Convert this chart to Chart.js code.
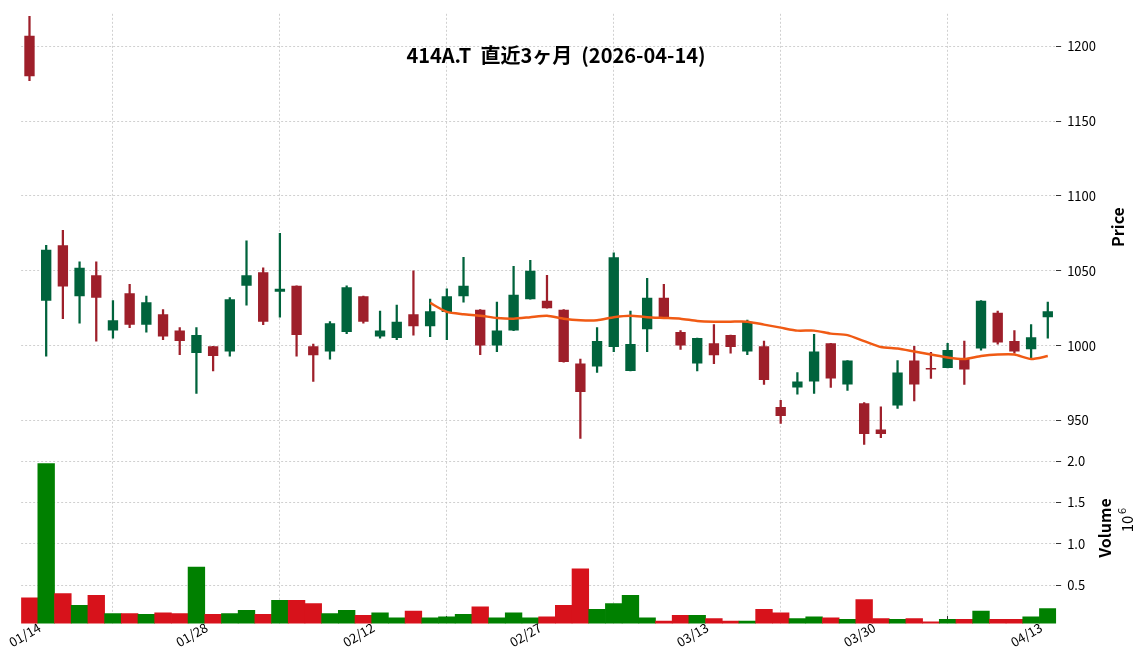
<!DOCTYPE html>
<html>
<head>
<meta charset="utf-8">
<script src="https://cdn.jsdelivr.net/npm/chart.js@4.4.1/dist/chart.umd.min.js"></script>
<style>
  body { margin: 0; background: #fff; }
  #wrap { width: 1148px; height: 670px; }
</style>
</head>
<body>
<div id="wrap"><canvas id="c"></canvas></div>
<script>
const dates = ['01/14','01/15','01/16','01/19','01/20','01/21','01/22','01/23','01/26','01/27',
  '01/28','01/29','01/30','02/02','02/03','02/04','02/05','02/06','02/09','02/10',
  '02/12','02/13','02/16','02/17','02/18','02/19','02/20','02/24','02/25','02/26',
  '02/27','03/02','03/03','03/04','03/05','03/06','03/09','03/10','03/11','03/12',
  '03/13','03/16','03/17','03/18','03/19','03/23','03/24','03/25','03/26','03/27',
  '03/30','03/31','04/01','04/02','04/03','04/06','04/07','04/08','04/09','04/10',
  '04/13','04/14'];
const openP = [1207,1030,1067,1033,1047,1010,1035,1014,1021,1010,995,999.5,996,1040,1049,1036,1040,999.5,996,1009,
  1033,1006,1005,1021,1013,1022.5,1033,1024,1000,1010,1031,1030,1024,988,986,999,983,1011,1032,1009,
  988,1001.5,1007,996,999.5,959,972,976,1001.5,974,961.5,944,960,990,985,985,991,998,1022,1003,997.5,1019];
const closeP = [1180,1064,1039.5,1052,1032,1017,1014,1029,1006,1003,1007,993,1031,1047,1016,1038,1007,993.5,1015,1039,
  1016,1010,1016,1013,1023,1033,1040,1000,1010,1034,1050,1025,989,969,1003,1059,1001,1032,1018.5,1000,
  1005,993.5,999,1016,977,953,976,996,978,990,941,941,982,974,984,997,984,1030,1002,996,1005.5,1023];
const highP = [1220,1067,1077,1056,1056,1030,1041,1033,1024,1012,1012,999.5,1032,1070,1052,1075,1040,1001,1016,1040,
  1033,1023,1027,1050,1031,1038,1059,1024,1029,1053,1057,1047,1024,991,1012,1062,1023,1045,1041,1010,
  1005,1014,1007,1017,1003,963.5,982,1007.5,1001.5,990,962,959,990,999.5,995.5,1001.5,1003,1030,1023,1010,1014,1029];
const lowP = [1177,993,1018,1015,1003,1005,1012,1009,1004,994,968,983,993,1027,1014,1019,993,976,991,1008,
  1015,1005,1004,1007,1006,1004,1029,994,996,1010,1031,1025,989,938,982,996,983,996,1018,997.5,
  983,988,995,994,974,948,967.5,968,972,970,934,938.5,958,963,978,985,974,997,1001,995,991.5,1005];
const ma25 = [null,null,null,null,null,null,null,null,null,null,null,null,null,null,null,null,null,null,null,null,
  null,null,null,null,1028.5,1022.5,1021,1020,1018.5,1018,1019,1020,1018,1017,1017,1019,1020,1019,1018.5,1018,
  1016.5,1016,1016,1016,1014,1012,1010,1010,1008,1007,1003,999,998,996,994,992,991,993,994,994,991,993];
const volume = [0.35,1.97,0.40,0.26,0.38,0.16,0.16,0.15,0.17,0.16,0.72,0.15,0.16,0.20,0.15,0.32,0.32,0.28,0.16,0.20,
  0.14,0.17,0.11,0.19,0.11,0.12,0.15,0.24,0.11,0.17,0.11,0.12,0.26,0.70,0.21,0.28,0.38,0.11,0.07,0.14,
  0.14,0.10,0.07,0.07,0.21,0.17,0.10,0.12,0.11,0.09,0.33,0.10,0.09,0.10,0.06,0.09,0.09,0.19,0.09,0.09,0.12,0.22];
const priceTicks = [950,1000,1050,1100,1150,1200];
const volTicks = [0.5,1.0,1.5,2.0];

const up = dates.map((d, i) => closeP[i] >= openP[i]);
const candleCol = up.map(u => u ? '#00633c' : '#9e1f2a');
const volCol = up.map(u => u ? '#008000' : '#d7121b');
const FONT = "'Noto Sans CJK JP', 'Noto Sans', sans-serif";

const sideTitles = {
  id: 'sideTitles',
  afterDraw(chart) {
    const ctx = chart.ctx;
    ctx.save();
    ctx.fillStyle = '#000';
    ctx.font = 'bold 16px ' + FONT;
    ctx.textAlign = 'center';
    ctx.textBaseline = 'middle';
    ctx.translate(1118, 227);
    ctx.rotate(-Math.PI / 2);
    ctx.fillText('Price', 0, 0);
    ctx.restore();
    ctx.save();
    ctx.fillStyle = '#000';
    ctx.font = 'bold 16px ' + FONT;
    ctx.textAlign = 'center';
    ctx.textBaseline = 'middle';
    ctx.translate(1105, 528);
    ctx.rotate(-Math.PI / 2);
    ctx.fillText('Volume', 0, 0);
    ctx.font = '15px ' + FONT;
    ctx.fillText('10', 4, 22);
    ctx.font = '11px ' + FONT;
    ctx.fillText('6', 17, 17);
    ctx.restore();
  }
};

const gridOpts = { color: '#c4c4c4', lineWidth: 0.8, tickLength: 5, tickColor: '#000' };
const tickFont = { family: FONT, size: 13 };

new Chart(document.getElementById('c'), {
  type: 'bar',
  data: {
    labels: dates,
    datasets: [
      { type: 'line', data: ma25, yAxisID: 'y', borderColor: '#f05a14', borderWidth: 2.5,
        pointRadius: 0, tension: 0.2, order: 0 },
      { data: dates.map((d, i) => [lowP[i], highP[i]]), yAxisID: 'y', backgroundColor: candleCol,
        barThickness: 1.6, grouped: false, order: 2 },
      { data: dates.map((d, i) => [openP[i], closeP[i]]), yAxisID: 'y', backgroundColor: candleCol,
        barPercentage: 0.62, categoryPercentage: 1, grouped: false, order: 1 },
      { data: volume, yAxisID: 'yv', backgroundColor: volCol,
        barPercentage: 1, categoryPercentage: 1, grouped: false, order: 3 }
    ]
  },
  options: {
    responsive: true,
    maintainAspectRatio: false,
    animation: false,
    layout: { padding: { left: 10, right: 46, top: 12, bottom: 12 } },
    plugins: {
      legend: { display: false },
      tooltip: { enabled: false },
      title: {
        display: true, text: '414A.T  直近3ヶ月  (2026-04-14)',
        font: { family: FONT, size: 20, weight: 'bold' }, color: '#000',
        padding: { top: 30, bottom: -62 }
      }
    },
    scales: {
      x: {
        afterBuildTicks: axis => { axis.ticks = axis.ticks.filter(t => t.value % 10 === 0); },
        ticks: { autoSkip: false, maxRotation: 30, minRotation: 30, color: '#000', font: tickFont,
          labelOffset: 10, padding: 0,
          callback: function (v) { return this.getLabelForValue(v); } },
        grid: { color: '#c4c4c4', lineWidth: 0.8, tickLength: 4, tickColor: '#000' },
        border: { display: false, dash: [2, 2] }
      },
      y: {
        position: 'right', stack: 'p', stackWeight: 2.47, min: 931.7, max: 1221.7,
        afterBuildTicks: axis => { axis.ticks = priceTicks.map(v => ({ value: v })); },
        ticks: { color: '#000', font: tickFont, padding: 6, callback: v => String(v) },
        grid: gridOpts,
        border: { display: false, dash: [2, 2] }
      },
      yv: {
        position: 'right', stack: 'p', stackWeight: 1, min: 0.04, max: 2.16,
        afterBuildTicks: axis => { axis.ticks = volTicks.map(v => ({ value: v })); },
        ticks: { color: '#000', font: tickFont, padding: 6, callback: v => v.toFixed(1) },
        grid: gridOpts,
        border: { display: false, dash: [2, 2] }
      }
    }
  },
  plugins: [sideTitles]
});
</script>
</body>
</html>
